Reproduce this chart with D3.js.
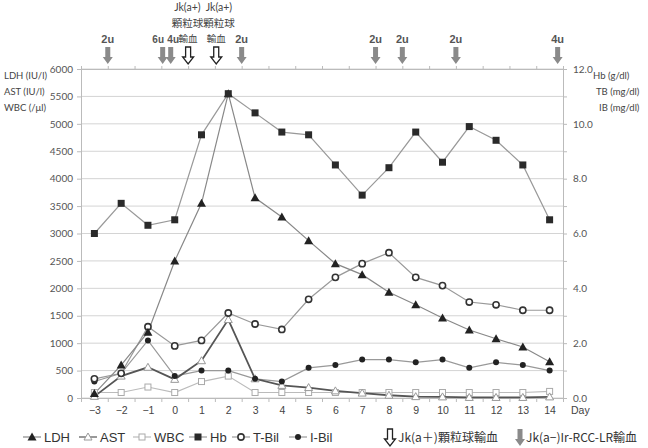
<!DOCTYPE html>
<html><head><meta charset="utf-8">
<script src="https://cdn.jsdelivr.net/npm/d3@7/dist/d3.min.js"></script>
<style>body{margin:0;background:#fff}svg{display:block}</style>
</head><body>
<svg id="c" width="648" height="448"></svg>
<script>
const days = [-3,-2,-1,0,1,2,3,4,5,6,7,8,9,10,11,12,13,14];
const ldh  = [80,600,1200,2500,3550,5550,3650,3300,2870,2450,2250,1930,1700,1460,1240,1080,930,660];
const ast  = [30,400,560,340,680,1430,350,230,190,130,90,50,25,20,10,10,10,20];
const wbc  = [100,100,200,100,300,400,100,100,100,100,100,100,100,100,100,100,100,120];
const hb   = [6.0,7.1,6.3,6.5,9.6,11.1,10.4,9.7,9.6,8.5,7.4,8.4,9.7,8.6,9.9,9.4,8.5,6.5];
const tbil = [0.7,0.9,2.6,1.9,2.1,3.1,2.7,2.5,3.6,4.4,4.9,5.3,4.4,4.1,3.5,3.4,3.2,3.2];
const ibil = [0.6,0.9,2.1,0.8,1.0,1.0,0.7,0.6,1.1,1.2,1.4,1.4,1.3,1.4,1.1,1.3,1.2,1.0];
const leftTicks = [0,500,1000,1500,2000,2500,3000,3500,4000,4500,5000,5500,6000];
const rightTicks = [0,2,4,6,8,10,12];
const rcDays = [-2.5,-0.45,-0.15,2.5,7.5,8.5,10.5,14.3];
const rcLabels = ["2u","6u","4u","2u","2u","2u","2u","4u"];
const rcLabelShift = [0,-4.5,2.5,0,0,0,0,0];
const granDays = [0.5,1.55];

const svg = d3.select("#c");
const X0=81, X1=563, Y0=398, Y1=69;
const x = d3.scaleLinear().domain([-3.5,14.5]).range([X0,X1]);
const yL = d3.scaleLinear().domain([0,6000]).range([Y0,Y1]);
const yR = d3.scaleLinear().domain([0,12]).range([Y0,Y1]);
const font = "'Liberation Sans', Arial, sans-serif";
const nfont = "Lato, 'Liberation Sans', sans-serif";
const jfont = "'Noto Sans CJK JP', sans-serif";

// grid
svg.append("g").selectAll("line").data(leftTicks).join("line")
  .attr("x1",X0).attr("x2",X1).attr("y1",d=>yL(d)).attr("y2",d=>yL(d))
  .attr("stroke","#d4d4d4").attr("stroke-width",1);

// left axis
const gl = svg.append("g").attr("transform",`translate(${X0},0)`)
  .call(d3.axisLeft(yL).tickValues(leftTicks).tickSize(4).tickFormat(d3.format("d")));
gl.select(".domain").attr("stroke","#bbb");
gl.selectAll(".tick line").attr("stroke","#bbb");
gl.selectAll("text").attr("font-family",nfont).attr("font-size",10).attr("fill","#555").attr("x",-8);

// right axis
const gr = svg.append("g").attr("transform",`translate(${X1},0)`)
  .call(d3.axisRight(yR).ticks(12).tickSize(4).tickFormat(d=> d%2===0 ? d3.format(".1f")(d) : ""));
gr.select(".domain").attr("stroke","#bbb");
gr.selectAll(".tick line").attr("stroke","#bbb");
gr.selectAll("text").attr("font-family",nfont).attr("font-size",10).attr("fill","#555").attr("x",10);

// bottom axis labels
const gb = svg.append("g").attr("transform",`translate(0,${Y0})`)
  .call(d3.axisBottom(x).tickValues(days).tickSize(0).tickPadding(9).tickFormat(d=> d<0 ? "\u2212"+(-d) : d));
gb.select(".domain").attr("stroke","#bbb");
gb.selectAll("text").attr("font-family",font).attr("font-size",10.5).attr("fill","#444");
const bounds = d3.range(-3.5,15,1);
const gbt = svg.append("g").attr("transform",`translate(0,${Y0})`)
  .call(d3.axisBottom(x).tickValues(bounds).tickSize(4).tickFormat(""));
gbt.select(".domain").remove();
gbt.selectAll(".tick line").attr("stroke","#bbb");
// top boundary ticks
const gtt = svg.append("g").attr("transform",`translate(0,${Y1})`)
  .call(d3.axisTop(x).tickValues(bounds).tickSize(3).tickFormat(""));
gtt.select(".domain").attr("stroke","#bbb");
gtt.selectAll(".tick line").attr("stroke","#bbb");
svg.append("text").attr("x",571).attr("y",414).attr("font-family",font).attr("font-size",10.5).attr("fill","#444").text("Day");

// axis titles
const lt = ["LDH (IU/l)","AST (IU/l)","WBC (/\u03bcl)"];
svg.append("g").selectAll("text").data(lt).join("text")
  .attr("x",4).attr("y",(d,i)=>79+i*16).attr("font-family",nfont).attr("font-size",9.5).attr("fill","#444").text(d=>d);
const rt = ["Hb (g/dl)","TB (mg/dl)","IB (mg/dl)"];
svg.append("g").selectAll("text").data(rt).join("text")
  .attr("x",(d,i)=>[593,596,599][i]).attr("y",(d,i)=>79+i*16).attr("font-family",nfont).attr("font-size",9.5).attr("fill","#444").text(d=>d);

// series
function line(vals, sc, color, w){
  svg.append("path").datum(vals)
    .attr("d", d3.line().x((d,i)=>x(days[i])).y(d=>sc(d)))
    .attr("fill","none").attr("stroke",color).attr("stroke-width",w);
}
function markers(vals, sc, type){
  const g = svg.append("g");
  vals.forEach((v,i)=> drawMarker(g, x(days[i]), sc(v), type));
}
function drawMarker(g,cx,cy,type){
  if(type==="sq") g.append("rect").attr("x",cx-3.5).attr("y",cy-3.5).attr("width",7).attr("height",7).attr("fill","#2a2a2a");
  else if(type==="osq") g.append("rect").attr("x",cx-3).attr("y",cy-3).attr("width",6).attr("height",6).attr("fill","#fff").attr("stroke","#aaa").attr("stroke-width",1);
  else if(type==="tri") g.append("path").attr("d",`M${cx},${cy-4.5}L${cx+4.5},${cy+3.5}L${cx-4.5},${cy+3.5}Z`).attr("fill","#222");
  else if(type==="otri") g.append("path").attr("d",`M${cx},${cy-4}L${cx+4},${cy+3}L${cx-4},${cy+3}Z`).attr("fill","#fff").attr("stroke","#999").attr("stroke-width",1);
  else if(type==="oc") g.append("circle").attr("cx",cx).attr("cy",cy).attr("r",3.1).attr("fill","#fff").attr("stroke","#333").attr("stroke-width",1.6);
  else if(type==="fc") g.append("circle").attr("cx",cx).attr("cy",cy).attr("r",3).attr("fill","#222");
}
line(wbc,yL,"#bbb",1.2);
line(ibil,yR,"#999",1.2);
line(tbil,yR,"#999",1.2);
line(hb,yR,"#999",1.2);
line(ldh,yL,"#888",1.2);
line(ast,yL,"#555",1.8);
markers(wbc,yL,"osq");
markers(ast,yL,"otri");
markers(ibil,yR,"fc");
markers(tbil,yR,"oc");
markers(ldh,yL,"tri");
markers(hb,yR,"sq");

// transfusion arrows
function grayArrow(g,cx,top){
  g.append("path").attr("d",`M${cx-2.5},${top}L${cx+2.5},${top}L${cx+2.5},${top+10}L${cx+5},${top+10}L${cx},${top+17}L${cx-5},${top+10}L${cx-2.5},${top+10}Z`)
   .attr("fill","#8a8a8a");
}
function hollowArrow(g,cx,top){
  g.append("path").attr("d",`M${cx-2.5},${top}L${cx+2.5},${top}L${cx+2.5},${top+10}L${cx+5.5},${top+10}L${cx},${top+17}L${cx-5.5},${top+10}L${cx-2.5},${top+10}Z`)
   .attr("fill","#fff").attr("stroke","#222").attr("stroke-width",1.3);
}
const ga = svg.append("g");
rcDays.forEach((d,i)=>{
  grayArrow(ga,x(d),47);
  ga.append("text").attr("x",x(d)+rcLabelShift[i]).attr("y",43).attr("text-anchor","middle")
    .attr("font-family",font).attr("font-size",rcLabelShift[i]?10:11).attr("font-weight","bold").attr("fill","#555").text(rcLabels[i]);
});
granDays.forEach(d=>{
  hollowArrow(ga,x(d),47);
  ga.append("text").attr("x",x(d)).attr("y",42).attr("text-anchor","middle")
    .attr("font-family",jfont).attr("font-size",9.5).attr("fill","#444").text("輸血");
});
const gmid = (x(granDays[0])+x(granDays[1]))/2;
svg.append("text").attr("x",gmid+1).attr("y",11).attr("text-anchor","middle").attr("font-family",nfont).attr("font-size",10.5).attr("fill","#444").text("Jk(a+)\u2002Jk(a+)");
svg.append("text").attr("x",gmid+1).attr("y",27).attr("text-anchor","middle").attr("font-family",jfont).attr("font-size",10.5).attr("fill","#444").text("顆粒球顆粒球");

// legend
const legItems = [
  {x:32,t:"LDH",m:"tri",c:"#888"},
  {x:88,t:"AST",m:"otri",c:"#555"},
  {x:142,t:"WBC",m:"osq",c:"#bbb"},
  {x:198,t:"Hb",m:"sq",c:"#999"},
  {x:241,t:"T-Bil",m:"oc",c:"#999"},
  {x:298,t:"I-Bil",m:"fc",c:"#999"}
];
const lg = svg.append("g");
const LY = 437;
legItems.forEach(it=>{
  lg.append("line").attr("x1",it.x-9).attr("x2",it.x+9).attr("y1",LY).attr("y2",LY).attr("stroke",it.c).attr("stroke-width",1.2);
  drawMarker(lg,it.x,LY,it.m);
  lg.append("text").attr("x",it.x+12).attr("y",LY+5).attr("font-family",font).attr("font-size",13).attr("fill","#333").text(it.t);
});
hollowArrow(lg,390,429);
lg.append("text").attr("x",398).attr("y",LY+5).attr("font-family",jfont).attr("font-size",12).attr("fill","#333").text("Jk(a\uff0b)顆粒球輸血");
grayArrow(lg,520,429);
lg.append("text").attr("x",526).attr("y",LY+5).attr("font-family",jfont).attr("font-size",12).attr("fill","#333").text("Jk(a\u2212)Ir-RCC-LR輸血");
</script>
</body></html>
